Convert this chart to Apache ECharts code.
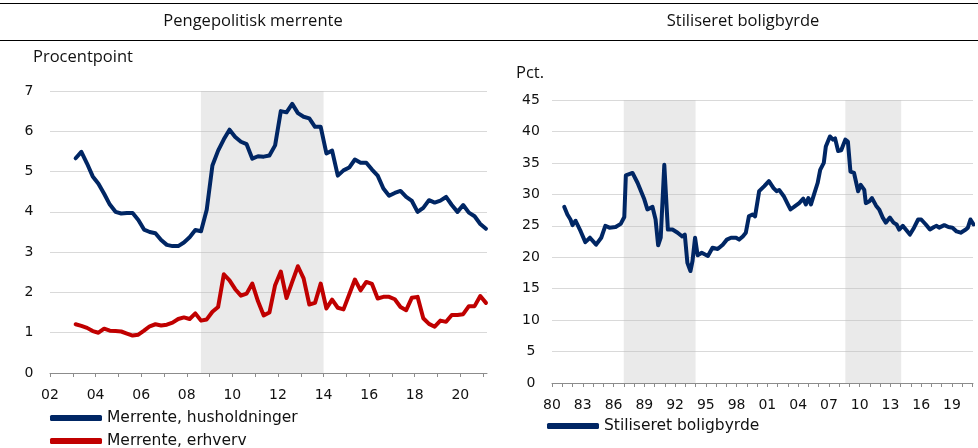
<!DOCTYPE html>
<html>
<head>
<meta charset="utf-8">
<script src="https://cdn.jsdelivr.net/npm/echarts@6/dist/echarts.min.js"></script>
<style>
html, body { margin: 0; padding: 0; background: #fff; }
#chart { width: 978px; height: 448px; }
</style>
</head>
<body>
<div id="chart"></div>
<script>
// Pengepolitisk merrente, kvartalsdata fra 2003K1 (procentpoint)
var merrenteStart = 2003.125;
var merrenteHush = [5.33, 5.49, 5.20, 4.88, 4.70, 4.45, 4.18, 4.00, 3.96, 3.97, 3.97, 3.80,
  3.56, 3.50, 3.47, 3.30, 3.18, 3.15, 3.15, 3.24, 3.37, 3.55, 3.52, 4.05,
  5.15, 5.52, 5.80, 6.04, 5.86, 5.74, 5.68, 5.32, 5.38, 5.37, 5.40, 5.65,
  6.50, 6.47, 6.68, 6.45, 6.36, 6.32, 6.11, 6.11, 5.45, 5.52, 4.90, 5.03,
  5.10, 5.30, 5.22, 5.22, 5.05, 4.90, 4.58, 4.40, 4.47, 4.52, 4.37, 4.27,
  4.00, 4.10, 4.29, 4.23, 4.28, 4.37, 4.17, 4.00, 4.17, 3.98, 3.89, 3.70, 3.58];
var merrenteErhv = [1.21, 1.17, 1.12, 1.04, 1.00, 1.10, 1.05, 1.04, 1.03, 0.98, 0.93, 0.95,
  1.05, 1.16, 1.21, 1.18, 1.20, 1.25, 1.34, 1.38, 1.34, 1.48, 1.30, 1.33,
  1.52, 1.64, 2.45, 2.30, 2.08, 1.92, 1.97, 2.22, 1.78, 1.43, 1.50, 2.18,
  2.52, 1.86, 2.26, 2.65, 2.35, 1.70, 1.74, 2.22, 1.60, 1.82, 1.62, 1.58,
  1.95, 2.32, 2.05, 2.26, 2.21, 1.85, 1.89, 1.89, 1.83, 1.64, 1.56, 1.87,
  1.89, 1.36, 1.22, 1.15, 1.30, 1.27, 1.44, 1.44, 1.46, 1.66, 1.66, 1.91, 1.74];

// Stiliseret boligbyrde (pct.)
var byrdeYears = [1981.2, 1981.5, 1981.8, 1982.0, 1982.3, 1982.8, 1983.25, 1983.7, 1984.3, 1984.8,
  1985.2, 1985.6, 1986.2, 1986.7, 1987.05, 1987.2, 1987.85, 1988.35, 1989.0, 1989.3,
  1989.8, 1990.1, 1990.35, 1990.6, 1990.95, 1991.3, 1991.75, 1992.25, 1992.7, 1992.95,
  1993.2, 1993.5, 1993.7, 1993.95, 1994.2, 1994.6, 1995.2, 1995.65, 1996.15, 1996.65,
  1997.05, 1997.45, 1997.95, 1998.25, 1998.6, 1998.9, 1999.2, 1999.55, 1999.8, 2000.2,
  2000.7, 2001.15, 2001.6, 2001.9, 2002.15, 2002.6, 2003.0, 2003.25, 2003.6, 2004.1,
  2004.5, 2004.75, 2005.0, 2005.25, 2005.55, 2005.9, 2006.15, 2006.5, 2006.7, 2007.1,
  2007.4, 2007.6, 2007.9, 2008.2, 2008.6, 2008.85, 2009.1, 2009.45, 2009.85, 2010.1,
  2010.45, 2010.6, 2010.95, 2011.2, 2011.6, 2011.9, 2012.25, 2012.55, 2012.95, 2013.3,
  2013.6, 2013.85, 2014.2, 2014.5, 2014.9, 2015.3, 2015.7, 2016.0, 2016.45, 2016.85,
  2017.25, 2017.5, 2017.75, 2018.25, 2018.65, 2019.05, 2019.45, 2019.85, 2020.35, 2020.55,
  2020.8, 2021.1];
var byrdeValues = [28.0, 26.8, 26.0, 25.1, 25.8, 24.1, 22.4, 23.1, 22.0, 23.1,
  25.0, 24.7, 24.8, 25.3, 26.4, 33.0, 33.4, 31.8, 29.2, 27.6,
  28.0, 26.0, 21.9, 23.1, 34.7, 24.4, 24.4, 23.9, 23.3, 23.6,
  19.1, 17.8, 19.4, 23.1, 20.3, 20.7, 20.2, 21.5, 21.3, 22.0,
  22.8, 23.1, 23.1, 22.8, 23.3, 23.9, 26.5, 26.8, 26.5, 30.5,
  31.3, 32.1, 31.0, 30.5, 30.7, 29.7, 28.4, 27.6, 28.0, 28.6,
  29.3, 28.4, 29.4, 28.4, 30.0, 31.8, 33.9, 35.0, 37.6, 39.2,
  38.7, 38.9, 36.9, 37.0, 38.7, 38.4, 33.6, 33.4, 30.5, 31.5,
  30.7, 28.6, 28.9, 29.4, 28.2, 27.6, 26.3, 25.5, 26.3, 25.5,
  25.2, 24.4, 25.0, 24.4, 23.6, 24.7, 26.0, 26.0, 25.2, 24.4,
  24.8, 25.0, 24.7, 25.1, 24.8, 24.7, 24.1, 23.9, 24.4, 24.7,
  26.0, 25.2];

// akser
var leftTicks = [2002, 2003, 2004, 2005, 2006, 2007, 2008, 2009, 2010, 2011,
  2012, 2013, 2014, 2015, 2016, 2017, 2018, 2019, 2020, 2021];
var leftLabels = [2002, 2004, 2006, 2008, 2010, 2012, 2014, 2016, 2018, 2020];
var rightTicks = [];
for (var y = 1980; y <= 2021; y++) rightTicks.push(y);
var rightLabels = [1980, 1983, 1986, 1989, 1992, 1995, 1998, 2001, 2004, 2007, 2010, 2013, 2016, 2019];

// gråt område (kriseperioder)
var leftShade = [[2008.62, 2014.0]];
var rightShade = [[1987.0, 1994.0], [2008.6, 2014.05]];

var hushData = merrenteHush.map(function (v, i) { return [merrenteStart + i * 0.25, v]; });
var erhvData = merrenteErhv.map(function (v, i) { return [merrenteStart + i * 0.25, v]; });
var byrdeData = byrdeValues.map(function (v, i) { return [byrdeYears[i], v]; });

var navy = '#002664';
var red = '#c00000';
var labelFont = 'DejaVu Sans';
var titleFont = 'Open Sans';

function yy(v) {
  var s = String(Math.round(v) % 100);
  return s.length < 2 ? '0' + s : s;
}

function xAxisCfg(idx, min, max, ticks, labels) {
  return {
    type: 'value', gridIndex: idx, min: min, max: max,
    axisLine: { show: true, onZero: false, lineStyle: { color: '#8c8c8c', width: 1 } },
    axisTick: { show: true, inside: false, length: 4, customValues: ticks, lineStyle: { color: '#8c8c8c' } },
    axisLabel: {
      customValues: labels, formatter: yy, margin: 15,
      fontFamily: labelFont, fontSize: 14, color: '#111'
    },
    splitLine: { show: false }
  };
}

function yAxisCfg(idx, max, interval) {
  return {
    type: 'value', gridIndex: idx, min: 0, max: max, interval: interval,
    axisLine: { show: false },
    axisTick: { show: false },
    axisLabel: { align: 'center', margin: 21, fontFamily: labelFont, fontSize: 14, color: '#111' },
    splitLine: { lineStyle: { color: '#d9d9d9', width: 1 } }
  };
}

function shadeArea(list) {
  return {
    silent: true,
    itemStyle: { color: 'rgba(190,190,190,0.33)' },
    data: list.map(function (p) { return [{ xAxis: p[0] }, { xAxis: p[1] }]; })
  };
}

function lineSeries(name, color, data, idx, shade) {
  var s = {
    name: name, type: 'line', xAxisIndex: idx, yAxisIndex: idx,
    data: data, symbol: 'none', smooth: false, clip: false,
    color: color,
    itemStyle: { color: color },
    lineStyle: { color: color, width: 4, join: 'round', cap: 'round' },
    emphasis: { disabled: true },
    z: 3
  };
  if (shade) s.markArea = shadeArea(shade);
  return s;
}

function legendCfg(name, left, top) {
  return {
    data: [name], left: left, top: top, orient: 'horizontal', padding: 0,
    icon: 'roundRect', itemWidth: 52, itemHeight: 6, itemGap: 5,
    selectedMode: false,
    textStyle: { fontFamily: labelFont, fontSize: 15.5, color: '#111', lineHeight: 16 }
  };
}

var myChart = echarts.init(document.getElementById('chart'), null, { renderer: 'canvas' });

var option = {
  backgroundColor: '#fff',
  animation: false,
  grid: [
    { left: 50, right: 491, top: 91, bottom: 75, outerBoundsMode: 'none' },
    { left: 552, right: 5, top: 100, bottom: 65, outerBoundsMode: 'none' }
  ],
  xAxis: [
    xAxisCfg(0, 2002, 2021.17, leftTicks, leftLabels),
    xAxisCfg(1, 1980, 2021.05, rightTicks, rightLabels)
  ],
  yAxis: [
    yAxisCfg(0, 7, 1),
    yAxisCfg(1, 45, 5)
  ],
  legend: [
    legendCfg('Merrente, husholdninger', 50, 410),
    legendCfg('Merrente, erhverv', 50, 433),
    legendCfg('Stiliseret boligbyrde', 547, 418)
  ],
  graphic: [
    { type: 'line', shape: { x1: 0, y1: 3.5, x2: 978, y2: 3.5 }, style: { stroke: '#000', lineWidth: 1 } },
    { type: 'line', shape: { x1: 0, y1: 40.5, x2: 978, y2: 40.5 }, style: { stroke: '#000', lineWidth: 1 } },
    { type: 'text', x: 253, y: 21, style: { text: 'Pengepolitisk merrente', fontFamily: titleFont, fontSize: 16.5, fill: '#111', align: 'center', verticalAlign: 'middle' } },
    { type: 'text', x: 743, y: 21, style: { text: 'Stiliseret boligbyrde', fontFamily: titleFont, fontSize: 16.5, fill: '#111', align: 'center', verticalAlign: 'middle' } },
    { type: 'text', x: 33, y: 57, style: { text: 'Procentpoint', fontFamily: titleFont, fontSize: 16.5, fill: '#111', align: 'left', verticalAlign: 'middle' } },
    { type: 'text', x: 516, y: 73, style: { text: 'Pct.', fontFamily: titleFont, fontSize: 16.5, fill: '#111', align: 'left', verticalAlign: 'middle' } }
  ],
  series: [
    lineSeries('Merrente, husholdninger', navy, hushData, 0, leftShade),
    lineSeries('Merrente, erhverv', red, erhvData, 0, null),
    lineSeries('Stiliseret boligbyrde', navy, byrdeData, 1, rightShade)
  ]
};

myChart.setOption(option);
</script>
</body>
</html>
